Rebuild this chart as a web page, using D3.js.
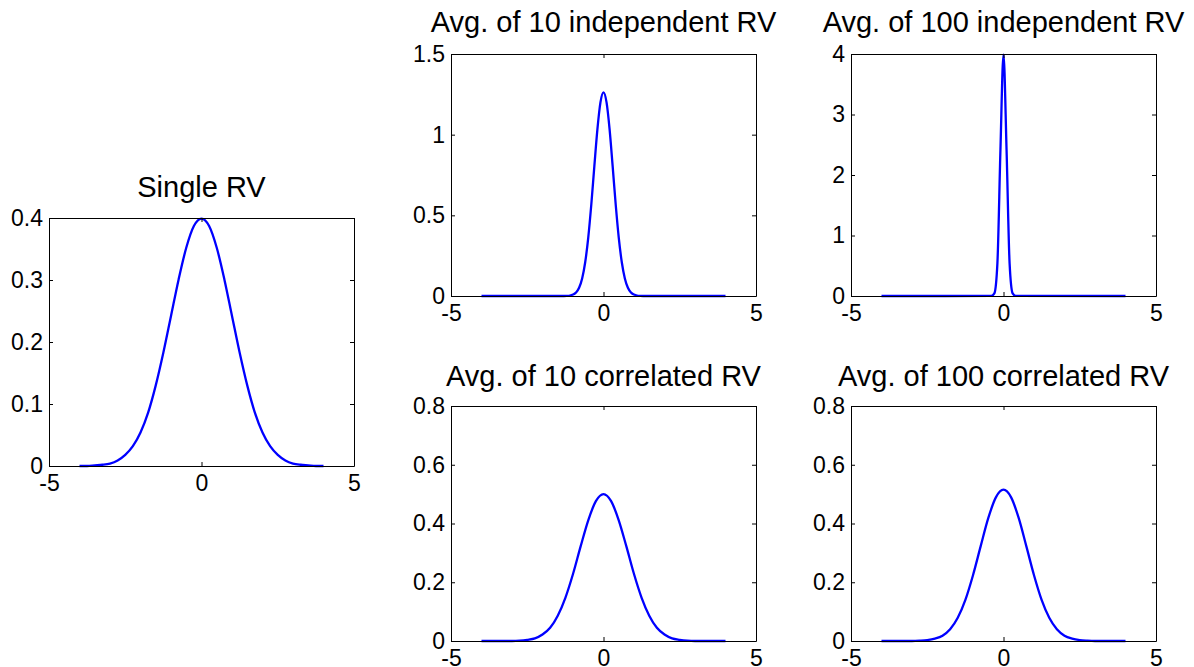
<!DOCTYPE html>
<html>
<head>
<meta charset="utf-8">
<script src="https://cdn.jsdelivr.net/npm/d3@7"></script>
<style>
  html, body { margin: 0; padding: 0; background: #fff; }
  svg { display: block; font-family: "Liberation Sans", Arial, Helvetica, sans-serif; }
  .tick text { fill: #000; }
</style>
</head>
<body>
<svg id="chart" width="1194" height="667"></svg>
<script>
// Density estimates of averages of random variables, one panel each.

// x grid shared by the wide curves (step 0.25)
const xWide = [-4, -3.75, -3.5, -3.25, -3, -2.75, -2.5, -2.25, -2, -1.75, -1.5, -1.25, -1, -0.75, -0.5, -0.25,
  0, 0.25, 0.5, 0.75, 1, 1.25, 1.5, 1.75, 2, 2.25, 2.5, 2.75, 3, 3.25, 3.5, 3.75, 4];

const ySingle = [0.000, 0.000, 0.001, 0.002, 0.004, 0.009, 0.018, 0.032, 0.054, 0.086, 0.130, 0.183, 0.242, 0.301, 0.352, 0.387,
  0.399, 0.387, 0.352, 0.301, 0.242, 0.183, 0.130, 0.086, 0.054, 0.032, 0.018, 0.009, 0.004, 0.002, 0.001, 0.000, 0.000];

const yCorr10 = [0.000, 0.000, 0.000, 0.000, 0.000, 0.001, 0.004, 0.009, 0.022, 0.045, 0.086, 0.147, 0.228, 0.322, 0.411, 0.476,
  0.500, 0.476, 0.411, 0.322, 0.228, 0.147, 0.086, 0.045, 0.022, 0.009, 0.004, 0.001, 0.000, 0.000, 0.000, 0.000, 0.000];

const yCorr100 = [0.000, 0.000, 0.000, 0.000, 0.000, 0.001, 0.003, 0.008, 0.018, 0.040, 0.079, 0.140, 0.224, 0.322, 0.418, 0.489,
  0.515, 0.489, 0.418, 0.322, 0.224, 0.140, 0.079, 0.040, 0.018, 0.008, 0.003, 0.001, 0.000, 0.000, 0.000, 0.000, 0.000];

// x grid for the average of 10 independent variables (step 0.1 near the centre)
const xInd10 = [-4, -1.3, -1.2, -1.1, -1.0, -0.9, -0.8, -0.7, -0.6, -0.5, -0.4, -0.3, -0.2, -0.1,
  0, 0.1, 0.2, 0.3, 0.4, 0.5, 0.6, 0.7, 0.8, 0.9, 1.0, 1.1, 1.2, 1.3, 4];
const yInd10 = [0.000, 0.000, 0.001, 0.003, 0.009, 0.022, 0.051, 0.109, 0.209, 0.362, 0.567, 0.805, 1.033, 1.200,
  1.262, 1.200, 1.033, 0.805, 0.567, 0.362, 0.209, 0.109, 0.051, 0.022, 0.009, 0.003, 0.001, 0.000, 0.000];

// x grid for the average of 100 independent variables
const xInd100 = [-4, -0.4, -0.3, -0.2, -0.1, 0, 0.1, 0.2, 0.3, 0.4, 4];
const yInd100 = [0.000, 0.001, 0.044, 0.540, 2.420, 3.990, 2.420, 0.540, 0.044, 0.001, 0.000];

const titles = ["Single RV", "Avg. of 10 independent RV", "Avg. of 100 independent RV",
  "Avg. of 10 correlated RV", "Avg. of 100 correlated RV"];

const xTicks = [-5, 0, 5];
const yTicksSingle = [0, 0.1, 0.2, 0.3, 0.4];
const yTicksInd10 = [0, 0.5, 1, 1.5];
const yTicksInd100 = [0, 1, 2, 3, 4];
const yTicksCorr = [0, 0.2, 0.4, 0.6, 0.8];

const panels = [
  { title: titles[0], xs: xWide, ys: ySingle, yMax: 0.4, yTicks: yTicksSingle, box: [49, 218, 354, 466], titleY: 197 },
  { title: titles[1], xs: xInd10, ys: yInd10, yMax: 1.5, yTicks: yTicksInd10, box: [451, 54, 756, 296], titleY: 32 },
  { title: titles[2], xs: xInd100, ys: yInd100, yMax: 4, yTicks: yTicksInd100, box: [851, 54, 1156, 296], titleY: 32 },
  { title: titles[3], xs: xWide, ys: yCorr10, yMax: 0.8, yTicks: yTicksCorr, box: [451, 406, 756, 641], titleY: 386 },
  { title: titles[4], xs: xWide, ys: yCorr100, yMax: 0.8, yTicks: yTicksCorr, box: [851, 406, 1156, 641], titleY: 386 }
];

const svg = d3.select("#chart");
const TICK = 4;
const FONT = 23;
const fmt = d => String(d);

panels.forEach(p => {
  const [x0, y0, x1, y1] = p.box;
  const x = d3.scaleLinear().domain([-5, 5]).range([x0, x1]);
  const y = d3.scaleLinear().domain([0, p.yMax]).range([y1, y0]);
  const g = svg.append("g");

  // curve
  const line = d3.line().x(d => x(d[0])).y(d => y(d[1])).curve(d3.curveMonotoneX);
  g.append("path")
    .datum(p.xs.map((v, i) => [v, p.ys[i]]))
    .attr("d", line)
    .attr("fill", "none")
    .attr("stroke", "#0000ff")
    .attr("stroke-width", 2.3)
    .attr("stroke-linejoin", "round");

  // axes on all four sides, ticks pointing inward
  const styleAxis = sel => {
    sel.selectAll("path.domain").attr("stroke", "#000").attr("stroke-width", 1);
    sel.selectAll(".tick line").attr("stroke", "#000").attr("stroke-width", 1);
    sel.selectAll(".tick text").attr("font-size", FONT).attr("font-family", null);
  };

  g.append("g").attr("transform", `translate(0,${y1})`)
    .call(d3.axisBottom(x).tickValues(xTicks).tickFormat(fmt).tickSizeInner(-TICK).tickSizeOuter(0).tickPadding(9))
    .call(styleAxis);
  g.append("g").attr("transform", `translate(0,${y0})`)
    .call(d3.axisTop(x).tickValues(xTicks).tickFormat("").tickSizeInner(-TICK).tickSizeOuter(0))
    .call(styleAxis);
  g.append("g").attr("transform", `translate(${x0},0)`)
    .call(d3.axisLeft(y).tickValues(p.yTicks).tickFormat(fmt).tickSizeInner(-TICK).tickSizeOuter(0).tickPadding(6))
    .call(styleAxis);
  g.append("g").attr("transform", `translate(${x1},0)`)
    .call(d3.axisRight(y).tickValues(p.yTicks).tickFormat("").tickSizeInner(-TICK).tickSizeOuter(0))
    .call(styleAxis);

  // title
  svg.append("text")
    .attr("x", (x0 + x1) / 2)
    .attr("y", p.titleY)
    .attr("text-anchor", "middle")
    .attr("font-size", 29)
    .attr("fill", "#000")
    .text(p.title);
});
</script>
</body>
</html>
